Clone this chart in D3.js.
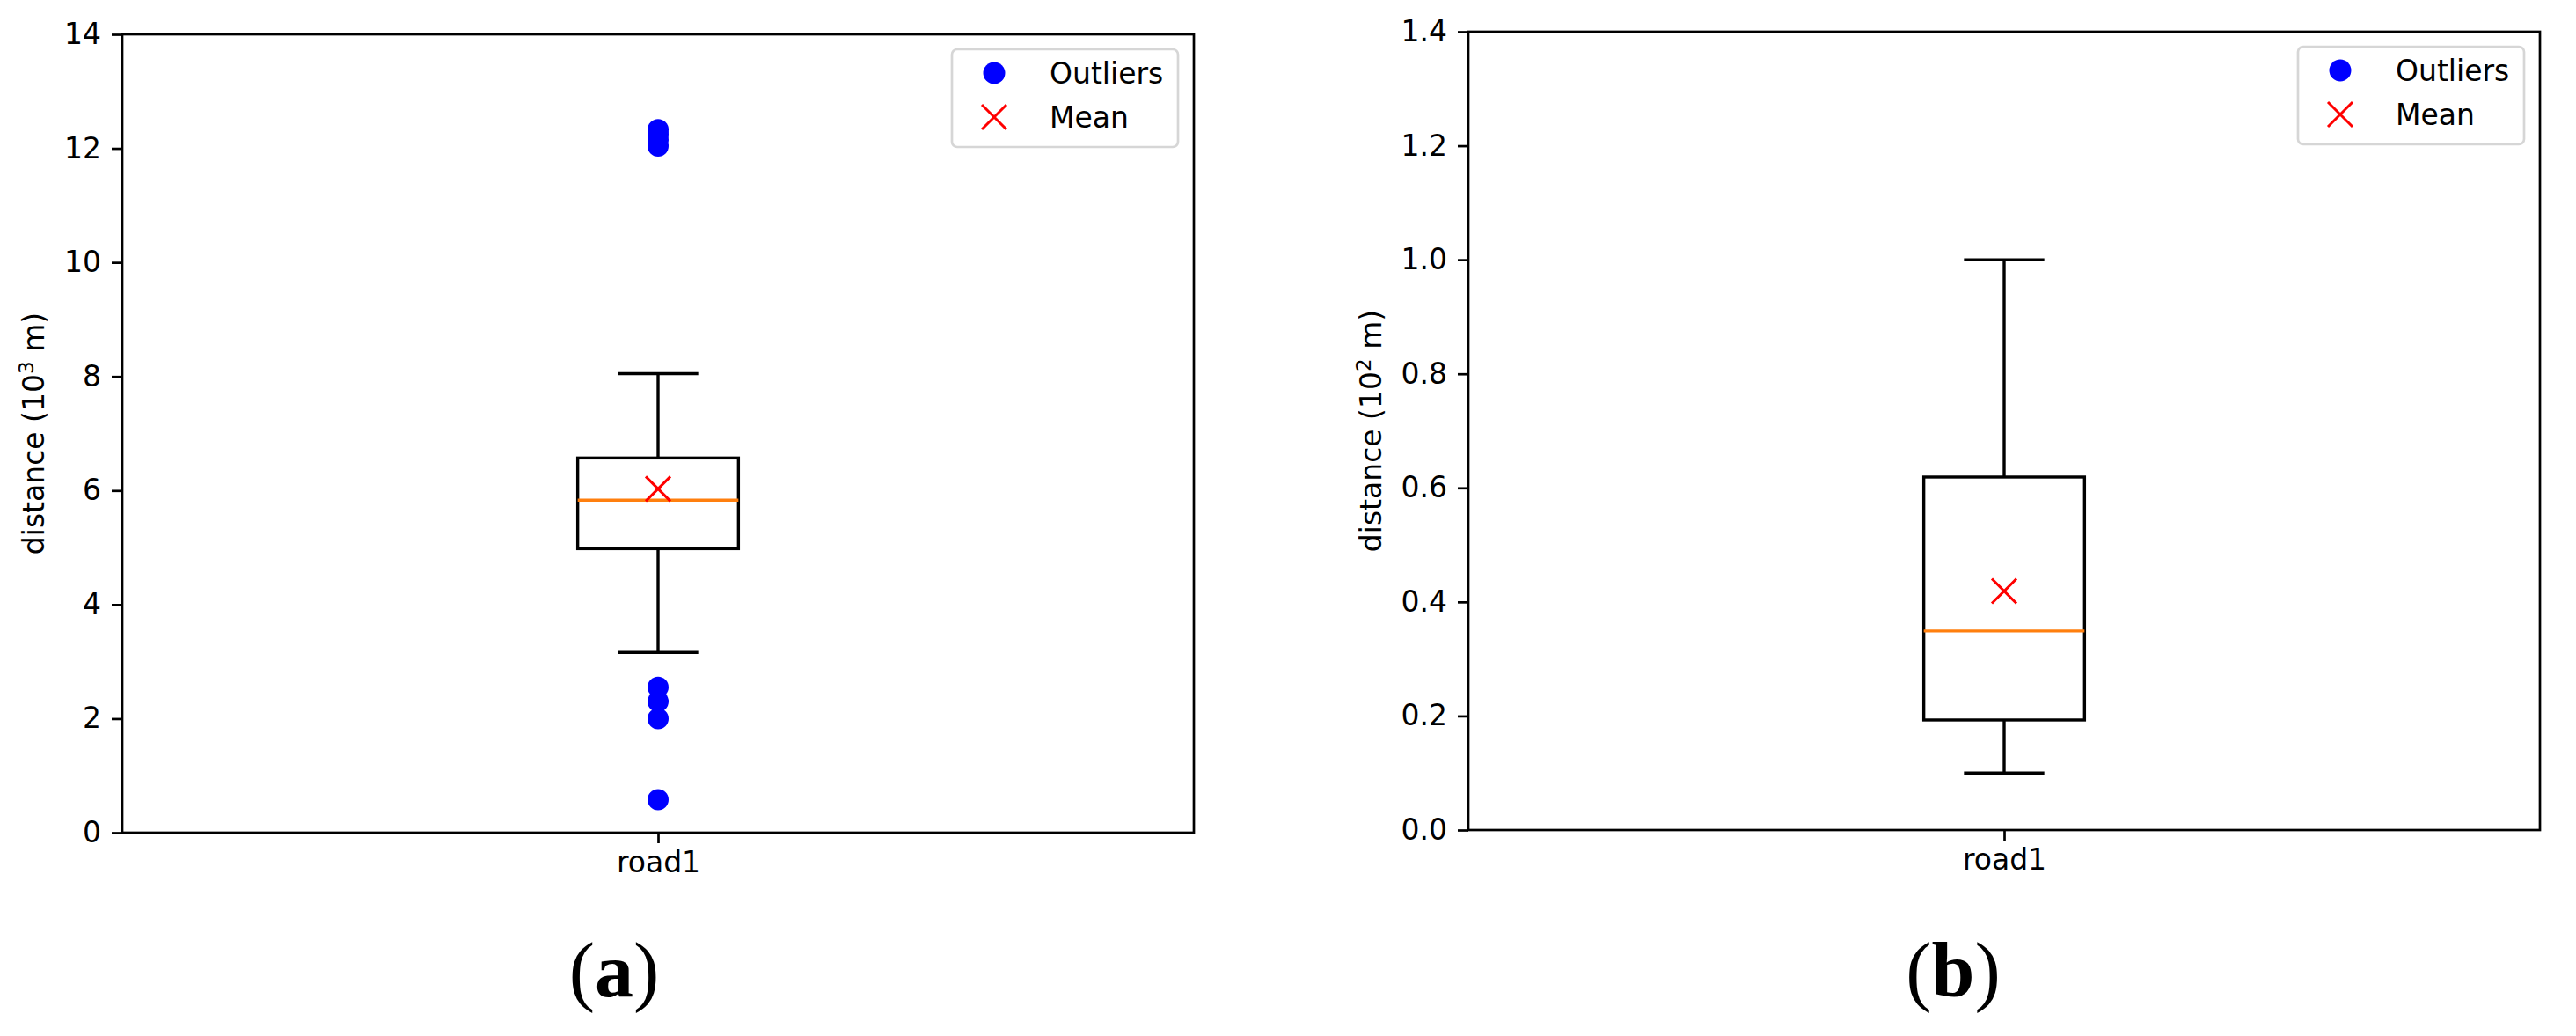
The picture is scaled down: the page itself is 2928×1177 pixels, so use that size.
<!DOCTYPE html>
<html lang="en">
<head>
    <meta charset="UTF-8">
    <title>Road distance box plots</title>
    <script src="https://d3js.org/d3.v7.min.js"></script>
    <style>
        body { margin: 0; background: #fff; }
        svg * { font-family: 'DejaVu Sans', sans-serif; }
        svg .caption, svg .caption tspan { font-family: 'Liberation Serif', 'Times New Roman', serif; }
    </style>
</head>
<body>
<svg></svg>
<script>
    const categories = ['road1'];

    // box stats: lower whisker, q1, median, q3, upper whisker
    const boxA = [3.16, 4.98, 5.83, 6.57, 8.05];
    const meanA = [6.03];
    const outliersA = [0.58, 2.0, 2.3, 2.55, 12.04, 12.15, 12.25, 12.33];
    const ticksA = [0, 2, 4, 6, 8, 10, 12, 14];

    const boxB = [0.10, 0.193, 0.349, 0.619, 1.0];
    const meanB = [0.419];
    const outliersB = [];
    const ticksB = [0, 0.2, 0.4, 0.6, 0.8, 1.0, 1.2, 1.4];

    const legendLabels = ['Outliers', 'Mean'];

    const width = 2928, height = 1177;
    const svg = d3.select("svg").attr("width", width).attr("height", height);

    const fontSize = 33;

    function drawPanel(p) {
        const g = svg.append("g");
        const x = d3.scaleLinear().domain([0.5, 1.5]).range([p.left, p.right]);
        const y = d3.scaleLinear().domain(d3.extent(p.ticks)).range([p.bottom, p.top]);

        // axes
        const yAxis = g.append("g")
            .attr("transform", `translate(${p.left},0)`)
            .call(d3.axisLeft(y).tickValues(p.ticks).tickFormat(p.fmt).tickSize(12).tickPadding(12));
        const xAxis = g.append("g")
            .attr("transform", `translate(0,${p.bottom})`)
            .call(d3.axisBottom(x).tickValues([1]).tickFormat(() => categories[0]).tickSize(12).tickPadding(10));
        [yAxis, xAxis].forEach(a => {
            a.select(".domain").remove();
            a.selectAll("line").attr("stroke", "#000").attr("stroke-width", 2.7);
            a.selectAll("text").attr("font-size", fontSize).attr("fill", "#000");
        });

        // frame
        g.append("rect")
            .attr("x", p.left).attr("y", p.top)
            .attr("width", p.right - p.left).attr("height", p.bottom - p.top)
            .attr("fill", "none").attr("stroke", "#000").attr("stroke-width", 2.7);

        // y label
        const lbl = g.append("text")
            .attr("transform", `translate(${p.labelX},${(p.top + p.bottom) / 2}) rotate(-90)`)
            .attr("text-anchor", "middle")
            .attr("font-size", fontSize);
        lbl.append("tspan").text("distance (10");
        lbl.append("tspan").attr("font-size", fontSize * 0.7).attr("dy", -12).text(p.exp);
        lbl.append("tspan").attr("dy", 12).text(" m)");

        // box
        const b = p.box;
        const cx = x(1), hw = x(1.075) - x(1), cw = x(1.0375) - x(1);
        const lw = 3.4;
        g.append("line").attr("x1", cx).attr("x2", cx).attr("y1", y(b[0])).attr("y2", y(b[1]))
            .attr("stroke", "#000").attr("stroke-width", lw);
        g.append("line").attr("x1", cx).attr("x2", cx).attr("y1", y(b[3])).attr("y2", y(b[4]))
            .attr("stroke", "#000").attr("stroke-width", lw);
        [b[0], b[4]].forEach(v => {
            g.append("line").attr("x1", cx - cw).attr("x2", cx + cw).attr("y1", y(v)).attr("y2", y(v))
                .attr("stroke", "#000").attr("stroke-width", lw);
        });
        g.append("rect")
            .attr("x", cx - hw).attr("y", y(b[3]))
            .attr("width", 2 * hw).attr("height", y(b[1]) - y(b[3]))
            .attr("fill", "none").attr("stroke", "#000").attr("stroke-width", lw);
        g.append("line").attr("x1", cx - hw).attr("x2", cx + hw).attr("y1", y(b[2])).attr("y2", y(b[2]))
            .attr("stroke", "#ff7f0e").attr("stroke-width", lw);

        // outliers
        g.selectAll("circle.out").data(p.outliers).enter().append("circle")
            .attr("class", "out")
            .attr("cx", cx).attr("cy", d => y(d)).attr("r", 12)
            .attr("fill", "#0000ff");

        // mean
        p.mean.forEach(m => drawX(g, cx, y(m)));

        // legend
        const lx = p.right - 18 - 257, ly = p.top + 17;
        g.append("rect").attr("x", lx).attr("y", ly).attr("width", 257).attr("height", 111)
            .attr("rx", 6).attr("fill", "#fff").attr("stroke", "#d6d6d6").attr("stroke-width", 2.7);
        g.append("circle").attr("cx", lx + 48).attr("cy", ly + 27).attr("r", 12.5).attr("fill", "#0000ff");
        drawX(g, lx + 48, ly + 77);
        legendLabels.forEach((t, i) => {
            g.append("text").attr("x", lx + 111).attr("y", ly + 27 + i * 50)
                .attr("dy", "0.35em").attr("font-size", fontSize).attr("fill", "#000").text(t);
        });

        // caption
        const cap = svg.append("text").attr("class", "caption")
            .attr("x", p.capX).attr("y", 1132)
            .attr("text-anchor", "middle").attr("font-size", 88).attr("fill", "#000");
        cap.append("tspan").text("(");
        cap.append("tspan").attr("font-weight", "bold").text(p.caption);
        cap.append("tspan").text(")");
    }

    function drawX(g, cx, cy) {
        const s = 14;
        g.append("path")
            .attr("d", `M${cx - s},${cy - s}L${cx + s},${cy + s}M${cx - s},${cy + s}L${cx + s},${cy - s}`)
            .attr("stroke", "#ff0000").attr("stroke-width", 3).attr("fill", "none");
    }

    drawPanel({
        left: 139, right: 1357, top: 39, bottom: 946,
        ticks: ticksA, fmt: d3.format("d"), exp: "3", labelX: 50,
        box: boxA, mean: meanA, outliers: outliersA, caption: "a", capX: 698
    });
    drawPanel({
        left: 1669, right: 2887, top: 36, bottom: 943,
        ticks: ticksB, fmt: d3.format(".1f"), exp: "2", labelX: 1570,
        box: boxB, mean: meanB, outliers: outliersB, caption: "b", capX: 2220
    });
</script>
</body>
</html>
